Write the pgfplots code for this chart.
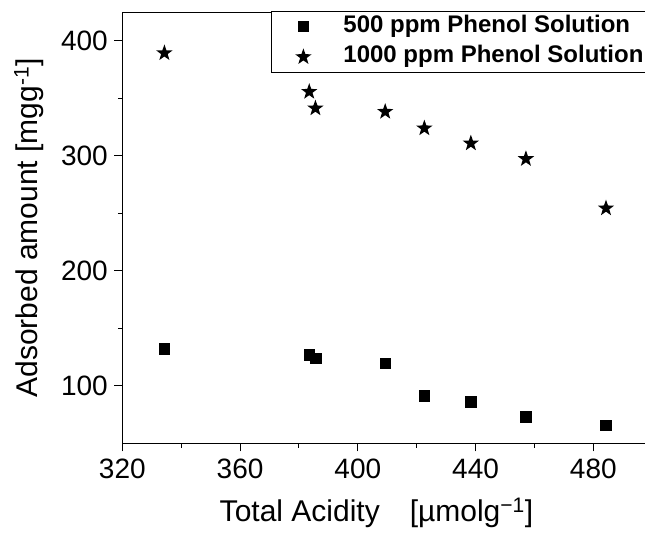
\documentclass[border=0pt]{standalone}
\usepackage{pgfplots}
\pgfplotsset{compat=1.18}
\usepackage{fontspec}
\setmainfont{Liberation Sans}
\pgfdeclareplotmark{fstar}{%
  \pgfpathmoveto{\pgfqpointpolar{90}{\pgfplotmarksize}}%
  \pgfpathlineto{\pgfqpointpolar{126}{0.40\pgfplotmarksize}}%
  \pgfpathlineto{\pgfqpointpolar{162}{\pgfplotmarksize}}%
  \pgfpathlineto{\pgfqpointpolar{198}{0.40\pgfplotmarksize}}%
  \pgfpathlineto{\pgfqpointpolar{234}{\pgfplotmarksize}}%
  \pgfpathlineto{\pgfqpointpolar{270}{0.40\pgfplotmarksize}}%
  \pgfpathlineto{\pgfqpointpolar{306}{\pgfplotmarksize}}%
  \pgfpathlineto{\pgfqpointpolar{342}{0.40\pgfplotmarksize}}%
  \pgfpathlineto{\pgfqpointpolar{18}{\pgfplotmarksize}}%
  \pgfpathlineto{\pgfqpointpolar{54}{0.40\pgfplotmarksize}}%
  \pgfpathclose
  \pgfusepathqfill
}
\begin{document}
\begin{tikzpicture}
\begin{axis}[
  name=ax,
  at={(0,0)}, anchor=south west,
  scale only axis,
  width=522.7pt, height=431pt,
  xmin=320, xmax=497.55, ymin=49.56, ymax=425,
  axis x line*=bottom, axis y line*=left,
  x axis line style={-}, y axis line style={-},
  axis line style={line width=1pt, black},
  every tick/.style={line width=1pt, black},
  tick align=outside,
  xtick pos=bottom, ytick pos=left,
  major tick length=8pt, minor tick length=4.5pt,
  xtick={320,360,...,480}, ytick={100,200,300,400},
  minor x tick num=1, minor y tick num=1,
  /pgf/number format/assume math mode=true,
  tick label style={font=\fontsize{28}{28}\selectfont},
  xticklabel style={yshift=-4pt},
  yticklabel style={xshift=-3pt},
  xlabel={Total Acidity\hspace{30pt}[µmolg\textsuperscript{−1}]},
  ylabel={Adsorbed amount [mgg\textsuperscript{-1}]},
  label style={font=\fontsize{30}{30}\selectfont},
  xlabel style={at={(axis description cs:0.4863,-0.1617)}, anchor=center},
  ylabel style={at={(axis description cs:-0.1785,0.5)}, anchor=center},
  legend style={at={(axis description cs:0.2845,1.004)}, anchor=north west,
    draw=black, line width=0.8pt, font=\bfseries\fontsize{24}{30}\selectfont,
    inner sep=3.5pt, row sep=6.5pt,
    nodes={inner sep=0pt, text height=18pt, text depth=6pt}},
  legend cell align=left,
  legend image code/.code={\path[draw=none] (-28.5pt,-12pt) rectangle (40pt,12pt);
    \draw[#1] plot coordinates {(0pt,0pt)};},
]
\addplot[only marks, mark=square*, mark size=5.3pt, black] coordinates {
(334.3,132.1) (383.5,126.5) (385.6,123.6) (409.3,119.3)
(422.6,90.8) (438.4,85.8) (457.1,72.7) (484.3,65.5)};
\addlegendentry{500 ppm Phenol Solution}
\addplot[only marks, mark=fstar, mark size=8.6pt, black] coordinates {
(334.3,389.5) (383.5,355.8) (385.6,341.4) (409.3,338.4)
(422.6,324.0) (438.4,310.9) (457.1,297.3) (484.3,254.3)};
\addlegendentry{1000 ppm Phenol Solution}
\draw[line width=1pt] (rel axis cs:0,1) -- (rel axis cs:1,1);
\end{axis}
\pgfresetboundingbox
\path[use as bounding box] ([xshift=-122.3pt,yshift=-90.7pt]ax.south west) rectangle ([yshift=12.3pt]ax.north east);
\end{tikzpicture}
\end{document}
